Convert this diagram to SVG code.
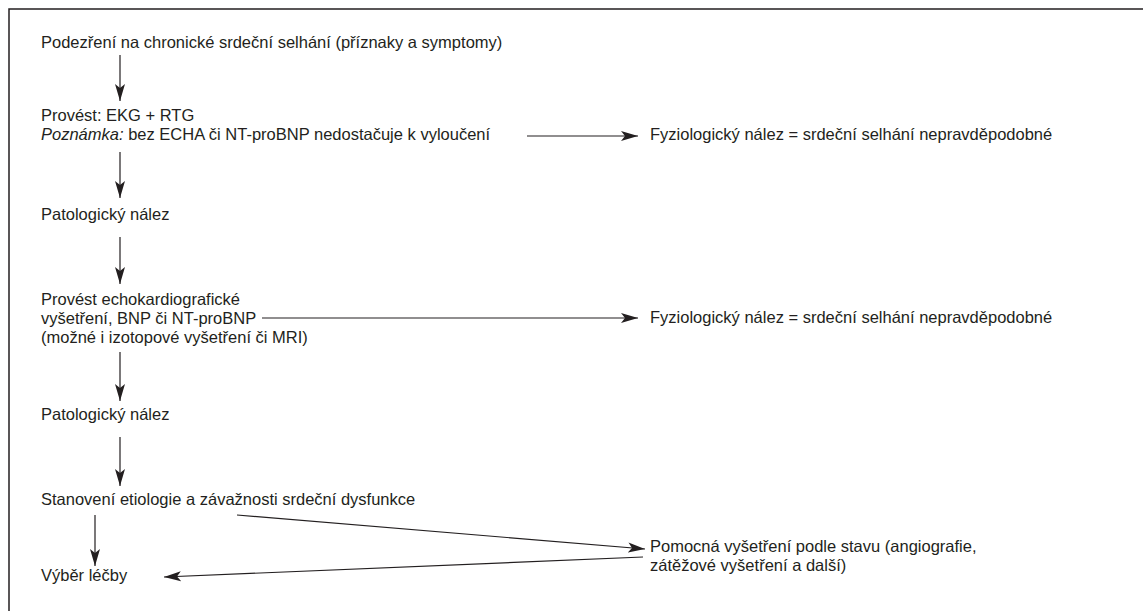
<svg xmlns="http://www.w3.org/2000/svg" width="1143" height="611" viewBox="0 0 1143 611">
<style>
text{font-family:"Liberation Sans",Arial,sans-serif;font-size:16.5px;fill:#231f20}
.c{stroke:#231f20;stroke-width:1.2;fill:none;marker-end:url(#ah)}
.frame{stroke:#231f20;stroke-width:1.5;fill:none}
</style>
<defs>
<marker id="ah" markerUnits="userSpaceOnUse" markerWidth="18" markerHeight="12" viewBox="0 0 18 12" refX="17" refY="6" orient="auto">
<path d="M0,1 L17,6 L0,11 L4,6 z" fill="#231f20"/>
</marker>
</defs>
<rect width="1143" height="611" fill="#fff"/>
<path class="frame" d="M9,611 V9 H1143"/>
<g id="n1"><text x="41" y="48">Podezření na chronické srdeční selhání (příznaky a symptomy)</text></g>
<g id="n2"><text x="41" y="121">Provést: EKG + RTG</text><text x="41" y="140"><tspan font-style="italic">Poznámka:</tspan> bez ECHA či NT-proBNP nedostačuje k vyloučení</text></g>
<g id="n3"><text x="650" y="140">Fyziologický nález = srdeční selhání nepravděpodobné</text></g>
<g id="n4"><text x="41" y="220">Patologický nález</text></g>
<g id="n5"><text x="41" y="305">Provést echokardiografické</text><text x="41" y="324">vyšetření, BNP či NT-proBNP</text><text x="41" y="343">(možné i izotopové vyšetření či MRI)</text></g>
<g id="n6"><text x="650" y="323">Fyziologický nález = srdeční selhání nepravděpodobné</text></g>
<g id="n7"><text x="41" y="420">Patologický nález</text></g>
<g id="n8"><text x="41" y="505">Stanovení etiologie a závažnosti srdeční dysfunkce</text></g>
<g id="n9"><text x="41" y="581">Výběr léčby</text></g>
<g id="n10"><text x="650" y="552">Pomocná vyšetření podle stavu (angiografie,</text><text x="650" y="571">zátěžové vyšetření a další)</text></g>
<g id="connectors">
<line class="c" x1="120" y1="55" x2="120" y2="101"/>
<line class="c" x1="527" y1="136" x2="638" y2="136"/>
<line class="c" x1="120" y1="152" x2="120" y2="198"/>
<line class="c" x1="120" y1="237" x2="120" y2="284"/>
<line class="c" x1="262" y1="318" x2="638" y2="318"/>
<line class="c" x1="120" y1="352" x2="120" y2="401"/>
<line class="c" x1="120" y1="437" x2="120" y2="486"/>
<line class="c" x1="95" y1="515" x2="95" y2="566"/>
<line class="c" x1="237" y1="515" x2="645" y2="549"/>
<line class="c" x1="643" y1="557" x2="164" y2="577"/>
</g>
</svg>
